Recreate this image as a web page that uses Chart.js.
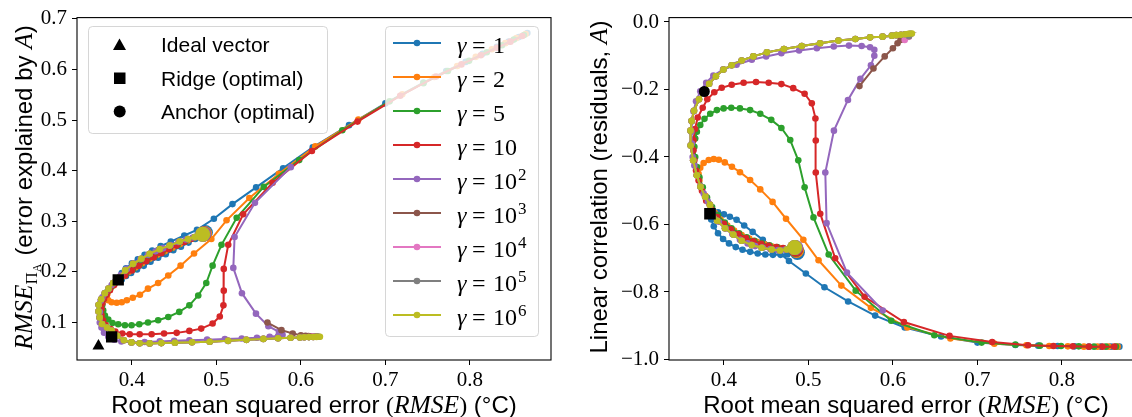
<!DOCTYPE html>
<html><head><meta charset="utf-8">
<script src="https://cdn.jsdelivr.net/npm/chart.js@4"></script>
<style>
html,body{margin:0;padding:0;background:#fff;overflow:hidden;width:1132px;height:417px;position:relative;}
#c1{position:absolute;left:0;top:0;width:566px;height:417px;}
#c2{position:absolute;left:566px;top:0;width:600px;height:417px;}
</style></head><body>
<canvas id="c1" width="566" height="417"></canvas>
<canvas id="c2" width="600" height="417"></canvas>
<script>
// ---------------- DATA ----------------
const gammaNames = ['γ = 1','γ = 2','γ = 5','γ = 10','γ = 10^2','γ = 10^3','γ = 10^4','γ = 10^5','γ = 10^6'];
const gammaBase = ['1','2','5','10','10','10','10','10','10'];
const gammaExp  = ['','','','','2','3','4','5','6'];
const xTicks = [0.4,0.5,0.6,0.7,0.8];
const yTicksLeft = [0.1,0.2,0.3,0.4,0.5,0.6,0.7];
const yTicksRight = [-1.0,-0.8,-0.6,-0.4,-0.2,0.0];

// gamma = 1
const rmse_g1 = [0.868,0.858,0.846,0.832,0.815,0.795,0.772,0.745,0.700,0.657,0.614,0.579,0.547,0.519,0.497,0.477,0.462,0.446,0.434,0.424,0.415,0.407,0.400,0.393,0.388,0.385,0.385,0.388,0.393,0.399,0.406,0.414,0.422,0.431,0.440,0.449,0.458,0.467,0.475,0.482,0.487];
const expl_g1 = [0.672,0.664,0.655,0.645,0.631,0.615,0.597,0.574,0.533,0.490,0.446,0.405,0.367,0.334,0.305,0.283,0.272,0.260,0.251,0.242,0.234,0.225,0.217,0.207,0.198,0.189,0.182,0.185,0.192,0.198,0.205,0.212,0.220,0.228,0.235,0.243,0.250,0.258,0.265,0.271,0.278];
const corr_g1 = [-0.962,-0.962,-0.962,-0.962,-0.961,-0.960,-0.959,-0.957,-0.950,-0.932,-0.905,-0.870,-0.828,-0.786,-0.745,-0.708,-0.676,-0.645,-0.622,-0.603,-0.586,-0.577,-0.570,-0.564,-0.565,-0.572,-0.585,-0.605,-0.626,-0.643,-0.656,-0.667,-0.675,-0.681,-0.686,-0.689,-0.690,-0.690,-0.689,-0.686,-0.683];
// gamma = 2
const rmse_g2 = [0.866,0.855,0.842,0.826,0.807,0.785,0.758,0.720,0.668,0.617,0.574,0.539,0.512,0.494,0.4735,0.4576,0.443,0.431,0.419,0.4095,0.401,0.394,0.388,0.382,0.376,0.372,0.370,0.371,0.374,0.378,0.383,0.389,0.396,0.404,0.412,0.421,0.430,0.439,0.448,0.457,0.466,0.474,0.481,0.486];
const expl_g2 = [0.670,0.662,0.652,0.640,0.625,0.607,0.585,0.551,0.501,0.448,0.394,0.346,0.302,0.265,0.2365,0.2124,0.193,0.178,0.167,0.155,0.149,0.144,0.140,0.139,0.140,0.144,0.150,0.157,0.165,0.173,0.182,0.191,0.200,0.209,0.217,0.226,0.234,0.241,0.248,0.255,0.262,0.268,0.272,0.276];
const corr_g2 = [-0.962,-0.962,-0.962,-0.962,-0.961,-0.960,-0.958,-0.953,-0.938,-0.905,-0.847,-0.781,-0.706,-0.645,-0.583,-0.533,-0.496,-0.468,-0.445,-0.429,-0.416,-0.408,-0.406,-0.409,-0.418,-0.432,-0.450,-0.470,-0.490,-0.515,-0.540,-0.565,-0.585,-0.603,-0.618,-0.631,-0.642,-0.651,-0.659,-0.665,-0.670,-0.674,-0.676,-0.677];
// gamma = 5
const rmse_g5 = [0.864,0.852,0.838,0.820,0.799,0.774,0.745,0.705,0.649,0.598,0.556,0.524,0.506,0.4955,0.488,0.4785,0.468,0.456,0.443,0.431,0.419,0.4087,0.3996,0.3917,0.3838,0.377,0.372,0.368,0.366,0.365,0.366,0.368,0.371,0.375,0.380,0.386,0.393,0.401,0.409,0.418,0.427,0.436,0.445,0.454,0.463,0.471,0.479,0.485];
const expl_g5 = [0.668,0.659,0.648,0.634,0.617,0.597,0.573,0.537,0.480,0.421,0.368,0.307,0.2535,0.2124,0.178,0.1535,0.134,0.121,0.111,0.1045,0.100,0.0967,0.0947,0.0947,0.0967,0.099,0.106,0.114,0.124,0.135,0.145,0.153,0.161,0.169,0.178,0.187,0.196,0.205,0.214,0.223,0.231,0.239,0.246,0.253,0.260,0.266,0.271,0.275];
const corr_g5 = [-0.962,-0.962,-0.962,-0.961,-0.960,-0.959,-0.956,-0.950,-0.928,-0.885,-0.796,-0.689,-0.579,-0.490,-0.410,-0.350,-0.314,-0.290,-0.272,-0.261,-0.256,-0.254,-0.256,-0.261,-0.272,-0.287,-0.305,-0.325,-0.345,-0.370,-0.400,-0.430,-0.460,-0.490,-0.520,-0.548,-0.573,-0.594,-0.611,-0.626,-0.638,-0.648,-0.656,-0.662,-0.667,-0.671,-0.673,-0.674];
// gamma = 10
const rmse_g10 = [0.862,0.848,0.832,0.813,0.790,0.760,0.7175,0.667,0.613,0.5665,0.5317,0.514,0.5087,0.5087,0.5083,0.504,0.4955,0.482,0.468,0.453,0.438,0.4233,0.4092,0.3974,0.3886,0.3803,0.3749,0.369,0.3658,0.364,0.364,0.365,0.367,0.370,0.374,0.379,0.385,0.392,0.400,0.408,0.417,0.426,0.435,0.444,0.453,0.462,0.470,0.478,0.485];
const expl_g10 = [0.666,0.655,0.643,0.628,0.610,0.586,0.548,0.497,0.439,0.376,0.314,0.2535,0.206,0.163,0.134,0.112,0.098,0.088,0.0835,0.0796,0.0784,0.077,0.077,0.077,0.0785,0.082,0.087,0.095,0.1045,0.115,0.127,0.138,0.147,0.155,0.164,0.174,0.184,0.193,0.203,0.212,0.221,0.229,0.237,0.245,0.252,0.259,0.265,0.270,0.275];
const corr_g10 = [-0.962,-0.962,-0.962,-0.961,-0.960,-0.958,-0.948,-0.930,-0.889,-0.814,-0.700,-0.568,-0.446,-0.351,-0.286,-0.241,-0.2126,-0.196,-0.184,-0.180,-0.178,-0.180,-0.186,-0.195,-0.208,-0.229,-0.254,-0.283,-0.317,-0.350,-0.380,-0.410,-0.440,-0.470,-0.500,-0.530,-0.555,-0.578,-0.598,-0.614,-0.628,-0.640,-0.650,-0.657,-0.663,-0.667,-0.670,-0.672,-0.673];
// gamma = 10^2
const rmse_g1e2 = [0.588,0.5456,0.5215,0.520,0.5302,0.5468,0.5615,0.574,0.578,0.578,0.573,0.563,0.548,0.530,0.510,0.489,0.468,0.450,0.433,0.415,0.399,0.3875,0.379,0.372,0.367,0.364,0.362,0.3615,0.362,0.363,0.365,0.368,0.372,0.376,0.381,0.387,0.394,0.402,0.410,0.419,0.428,0.437,0.446,0.455,0.464,0.472,0.479,0.485];
const expl_g1e2 = [0.407,0.3365,0.269,0.208,0.158,0.1176,0.0927,0.0817,0.077,0.075,0.0735,0.0718,0.0700,0.0686,0.0673,0.0662,0.0650,0.0640,0.0628,0.0615,0.0612,0.0625,0.066,0.072,0.080,0.090,0.100,0.110,0.121,0.143,0.150,0.158,0.166,0.174,0.183,0.194,0.206,0.217,0.225,0.234,0.241,0.247,0.253,0.259,0.264,0.268,0.272,0.275];
const corr_g1e2 = [-0.855,-0.7425,-0.596,-0.446,-0.322,-0.231,-0.1686,-0.1285,-0.100,-0.0826,-0.0748,-0.071,-0.070,-0.0728,-0.0777,-0.0845,-0.0924,-0.102,-0.112,-0.1267,-0.141,-0.159,-0.18,-0.205,-0.235,-0.265,-0.295,-0.325,-0.360,-0.400,-0.425,-0.455,-0.486,-0.508,-0.532,-0.562,-0.592,-0.612,-0.628,-0.645,-0.656,-0.664,-0.669,-0.673,-0.676,-0.675,-0.671,-0.668];
// gamma = 10^3
const rmse_g1e3 = [0.5604,0.5770,0.5903,0.6000,0.6055,0.6090,0.6125,0.6155,0.6180,0.6200,0.6146,0.6095,0.6040,0.5988,0.5878,0.5730,0.5556,0.5355,0.5138,0.4921,0.4711,0.4509,0.4348,0.4210,0.4092,0.3995,0.3905,0.3825,0.3760,0.3705,0.3646,0.3618,0.3605,0.3606,0.3636,0.3679,0.3723,0.3778,0.3835,0.3920,0.4013,0.4111,0.4210,0.4329,0.4447,0.4565,0.4664,0.4743,0.4840];
const expl_g1e3 = [0.1000,0.0850,0.0784,0.0750,0.0738,0.0732,0.0728,0.0724,0.0722,0.0720,0.0714,0.0712,0.0709,0.0706,0.0699,0.0690,0.0677,0.0658,0.0638,0.0622,0.0612,0.0602,0.0594,0.0588,0.0590,0.0608,0.0650,0.0740,0.0840,0.0900,0.0970,0.1100,0.1220,0.1350,0.1460,0.1580,0.1670,0.1780,0.1880,0.2030,0.2160,0.2260,0.2360,0.2450,0.2520,0.2600,0.2650,0.2690,0.2747];
const corr_g1e3 = [-0.190,-0.138,-0.102,-0.078,-0.063,-0.053,-0.045,-0.040,-0.037,-0.035,-0.0365,-0.038,-0.039,-0.0405,-0.0434,-0.0455,-0.0504,-0.0551,-0.063,-0.071,-0.080,-0.090,-0.102,-0.114,-0.128,-0.141,-0.161,-0.183,-0.205,-0.229,-0.263,-0.293,-0.322,-0.366,-0.410,-0.454,-0.488,-0.518,-0.542,-0.589,-0.611,-0.630,-0.648,-0.661,-0.669,-0.674,-0.677,-0.674,-0.669];
// gamma = 10^4
const rmse_g1e4 = [0.6140,0.6190,0.6146,0.6095,0.6040,0.5988,0.5878,0.5730,0.5556,0.5355,0.5138,0.4921,0.4711,0.4509,0.4348,0.4210,0.4092,0.3995,0.3905,0.3825,0.3760,0.3705,0.3646,0.3618,0.3605,0.3606,0.3636,0.3679,0.3723,0.3778,0.3835,0.3920,0.4013,0.4111,0.4210,0.4329,0.4447,0.4565,0.4664,0.4743,0.4838];
const expl_g1e4 = [0.0722,0.0719,0.0714,0.0712,0.0709,0.0706,0.0699,0.0690,0.0677,0.0658,0.0638,0.0622,0.0612,0.0602,0.0594,0.0588,0.0590,0.0608,0.0650,0.0740,0.0840,0.0900,0.0970,0.1100,0.1220,0.1350,0.1460,0.1580,0.1670,0.1780,0.1880,0.2030,0.2160,0.2260,0.2360,0.2450,0.2520,0.2600,0.2650,0.2690,0.2746];
const corr_g1e4 = [-0.053,-0.044,-0.0365,-0.038,-0.039,-0.0405,-0.0434,-0.0455,-0.0504,-0.0551,-0.063,-0.071,-0.080,-0.090,-0.102,-0.114,-0.128,-0.141,-0.161,-0.183,-0.205,-0.229,-0.263,-0.293,-0.322,-0.366,-0.410,-0.454,-0.488,-0.518,-0.542,-0.589,-0.611,-0.630,-0.648,-0.661,-0.669,-0.674,-0.677,-0.674,-0.668];
// gamma = 10^5
const rmse_g1e5 = [0.6190,0.6215,0.6146,0.6095,0.6040,0.5988,0.5878,0.5730,0.5556,0.5355,0.5138,0.4921,0.4711,0.4509,0.4348,0.4210,0.4092,0.3995,0.3905,0.3825,0.3760,0.3705,0.3646,0.3618,0.3605,0.3606,0.3636,0.3679,0.3723,0.3778,0.3835,0.3920,0.4013,0.4111,0.4210,0.4329,0.4447,0.4565,0.4664,0.4743,0.4837];
const expl_g1e5 = [0.0721,0.0718,0.0714,0.0712,0.0709,0.0706,0.0699,0.0690,0.0677,0.0658,0.0638,0.0622,0.0612,0.0602,0.0594,0.0588,0.0590,0.0608,0.0650,0.0740,0.0840,0.0900,0.0970,0.1100,0.1220,0.1350,0.1460,0.1580,0.1670,0.1780,0.1880,0.2030,0.2160,0.2260,0.2360,0.2450,0.2520,0.2600,0.2650,0.2690,0.2745];
const corr_g1e5 = [-0.042,-0.035,-0.0365,-0.038,-0.039,-0.0405,-0.0434,-0.0455,-0.0504,-0.0551,-0.063,-0.071,-0.080,-0.090,-0.102,-0.114,-0.128,-0.141,-0.161,-0.183,-0.205,-0.229,-0.263,-0.293,-0.322,-0.366,-0.410,-0.454,-0.488,-0.518,-0.542,-0.589,-0.611,-0.630,-0.648,-0.661,-0.669,-0.674,-0.677,-0.674,-0.668];
// gamma = 10^6
const rmse_g1e6 = [0.6225,0.6185,0.6146,0.6095,0.6040,0.5988,0.5878,0.5730,0.5556,0.5355,0.5138,0.4921,0.4711,0.4509,0.4348,0.4210,0.4092,0.3995,0.3905,0.3825,0.3760,0.3705,0.3646,0.3618,0.3605,0.3606,0.3636,0.3679,0.3723,0.3778,0.3835,0.3920,0.4013,0.4111,0.4210,0.4329,0.4447,0.4565,0.4664,0.4743,0.4837];
const expl_g1e6 = [0.0718,0.0716,0.0714,0.0712,0.0709,0.0706,0.0699,0.0690,0.0677,0.0658,0.0638,0.0622,0.0612,0.0602,0.0594,0.0588,0.0590,0.0608,0.0650,0.0740,0.0840,0.0900,0.0970,0.1100,0.1220,0.1350,0.1460,0.1580,0.1670,0.1780,0.1880,0.2030,0.2160,0.2260,0.2360,0.2450,0.2520,0.2600,0.2650,0.2690,0.2745];
const corr_g1e6 = [-0.034,-0.035,-0.0365,-0.038,-0.039,-0.0405,-0.0434,-0.0455,-0.0504,-0.0551,-0.063,-0.071,-0.080,-0.090,-0.102,-0.114,-0.128,-0.141,-0.161,-0.183,-0.205,-0.229,-0.263,-0.293,-0.322,-0.366,-0.410,-0.454,-0.488,-0.518,-0.542,-0.589,-0.611,-0.630,-0.648,-0.661,-0.669,-0.674,-0.677,-0.674,-0.668];

// special markers
const ideal_left = {x:0.3604, y:0.0537};
const ridge_left = {x:0.3838, y:0.1843};
const anchor_left = {x:0.3760, y:0.0718};
const ridge_right = {x:0.3835, y:-0.568};
const anchor_right = {x:0.3768, y:-0.206};

const colors = ['#1f77b4','#ff7f0e','#2ca02c','#d62728','#9467bd','#8c564b','#e377c2','#7f7f7f','#bcbd22'];
const rmseAll = [rmse_g1,rmse_g2,rmse_g5,rmse_g10,rmse_g1e2,rmse_g1e3,rmse_g1e4,rmse_g1e5,rmse_g1e6];
const explAll = [expl_g1,expl_g2,expl_g5,expl_g10,expl_g1e2,expl_g1e3,expl_g1e4,expl_g1e5,expl_g1e6];
const corrAll = [corr_g1,corr_g2,corr_g5,corr_g10,corr_g1e2,corr_g1e3,corr_g1e4,corr_g1e5,corr_g1e6];

// ---------------- HELPERS ----------------
const SANS = '24px "Liberation Sans"';
const SERIF = '24px "Liberation Serif"';
const MATH = 'italic 25.5px "Liberation Serif"';
const fmt = v => (Math.abs(v) < 1e-9 ? '0.0' : v.toFixed(1)).replace('-', '\u2212');

function drawRich(ctx, parts, cx, cy, rot) {
  ctx.save();
  ctx.translate(cx, cy);
  if (rot) ctx.rotate(-Math.PI / 2);
  let total = 0;
  parts.forEach(p => { ctx.font = p.f; p.w = ctx.measureText(p.t).width + (p.gap || 0); total += p.w; });
  let x = -total / 2;
  ctx.fillStyle = '#000';
  ctx.textBaseline = 'alphabetic';
  ctx.textAlign = 'left';
  parts.forEach(p => { ctx.font = p.f; ctx.fillText(p.t, x, p.dy || 0); x += p.w; });
  ctx.restore();
}
function roundRect(ctx, x, y, w, h, r) {
  ctx.beginPath();
  ctx.moveTo(x + r, y);
  ctx.arcTo(x + w, y, x + w, y + h, r);
  ctx.arcTo(x + w, y + h, x, y + h, r);
  ctx.arcTo(x, y + h, x, y, r);
  ctx.arcTo(x, y, x + w, y, r);
  ctx.closePath();
}
function drawLegends(ctx) {
  ctx.save();
  // marker legend
  roundRect(ctx, 88.5, 26.5, 239, 107, 4);
  ctx.fillStyle = 'rgba(255,255,255,0.8)'; ctx.fill();
  ctx.strokeStyle = 'rgba(204,204,204,0.8)'; ctx.lineWidth = 1; ctx.stroke();
  ctx.fillStyle = '#000';
  ctx.beginPath(); ctx.moveTo(119.5, 38.5); ctx.lineTo(126, 50); ctx.lineTo(113, 50); ctx.closePath(); ctx.fill();
  ctx.fillRect(114, 72.5, 11.5, 11.5);
  ctx.beginPath(); ctx.arc(119.7, 111.5, 6, 0, Math.PI * 2); ctx.fill();
  ctx.font = '21px "Liberation Sans"'; ctx.textBaseline = 'alphabetic';
  ctx.fillText('Ideal vector', 161, 52);
  ctx.fillText('Ridge (optimal)', 161, 85.5);
  ctx.fillText('Anchor (optimal)', 161, 119);
  // gamma legend
  roundRect(ctx, 385.5, 26.5, 153, 310, 4);
  ctx.fillStyle = 'rgba(255,255,255,0.8)'; ctx.fill();
  ctx.strokeStyle = 'rgba(204,204,204,0.8)'; ctx.stroke();
  for (let i = 0; i < colors.length; i++) {
    const y = 43 + i * 34;
    ctx.strokeStyle = colors[i]; ctx.lineWidth = 2;
    ctx.beginPath(); ctx.moveTo(393, y); ctx.lineTo(441, y); ctx.stroke();
    ctx.fillStyle = colors[i];
    ctx.beginPath(); ctx.arc(417, y, 3.3, 0, Math.PI * 2); ctx.fill();
    ctx.fillStyle = '#000';
    ctx.font = 'italic 24px "Liberation Serif"';
    ctx.fillText('γ', 457, y + 9.5);
    ctx.font = '24px "Liberation Serif"';
    ctx.fillText('=', 472, y + 9.5);
    ctx.fillText(gammaBase[i], 493, y + 9.5);
    if (gammaExp[i]) {
      const w = ctx.measureText(gammaBase[i]).width;
      ctx.font = '17px "Liberation Serif"';
      ctx.fillText(gammaExp[i], 493 + w + 1, y + 0.5);
    }
  }
  ctx.restore();
}

const decor = {
  id: 'decor',
  afterDatasetsDraw(chart, args, o) {
    const { ctx, chartArea: a } = chart;
    ctx.save();
    ctx.strokeStyle = '#000'; ctx.lineWidth = 1.1;
    ctx.strokeRect(a.left, a.top, a.right - a.left, a.bottom - a.top);
    ctx.restore();
  },
  afterDraw(chart, args, o) {
    const ctx = chart.ctx;
    if (o.xTitle) drawRich(ctx, o.xTitle, o.xTitleX, o.xTitleY, false);
    if (o.yTitle) drawRich(ctx, o.yTitle, o.yTitleX, o.yTitleY, true);
    if (o.legends) drawLegends(ctx);
  }
};

function makeScales(ymin, ymax, yt, yAxisWidth) {
  const common = {
    type: 'linear',
    grid: { display: true, drawOnChartArea: false, drawTicks: true, tickLength: 5, color: '#000', lineWidth: 1 },
    border: { display: false },
    ticks: { autoSkip: false, maxRotation: 0, color: '#000', font: { family: 'Liberation Serif', size: 21 }, callback: v => fmt(v) }
  };
  return {
    x: Object.assign({}, common, {
      min: 0.335, max: 0.896,
      ticks: Object.assign({}, common.ticks, { padding: 3 }),
      afterBuildTicks: s => { s.ticks = xTicks.map(v => ({ value: v })); },
      afterFit: s => { s.height = 57; }
    }),
    y: Object.assign({}, common, {
      min: ymin, max: ymax,
      ticks: Object.assign({}, common.ticks, { padding: 5 }),
      afterBuildTicks: s => { s.ticks = yt.map(v => ({ value: v })); },
      afterFit: s => { s.width = yAxisWidth; }
    })
  };
}

function seriesDatasets(yAll) {
  return colors.map((c, k) => ({
    label: gammaNames[k],
    data: rmseAll[k].map((x, i) => ({ x: x, y: yAll[k][i] })),
    borderColor: c, backgroundColor: c, pointBackgroundColor: c,
    pointBorderWidth: 0, borderWidth: 2, showLine: true,
    pointRadius: rmseAll[k].map((_, i) => i === rmseAll[k].length - 1 ? 7.5 : 3.3),
    order: 20 - k
  }));
}
function markerDs(pt, style, r) {
  return { data: [pt], pointStyle: style, pointRadius: r, backgroundColor: '#000', borderColor: '#000',
           pointBorderWidth: 0, showLine: false, order: 0 };
}

const baseOpts = { responsive: false, animation: false, events: [], devicePixelRatio: 1 };

new Chart(document.getElementById('c1'), {
  type: 'scatter',
  data: { datasets: seriesDatasets(explAll).concat([
    markerDs(ideal_left, 'triangle', 6.9), markerDs(ridge_left, 'rect', 8), markerDs(anchor_left, 'rect', 8)]) },
  options: Object.assign({}, baseOpts, {
    layout: { padding: { left: 0, top: 15, right: 15, bottom: 0 } },
    scales: makeScales(0.026, 0.7025, yTicksLeft, 77),
    plugins: {
      legend: { display: false }, tooltip: { enabled: false },
      decor: {
        legends: true,
        xTitle: [{ t: 'Root mean squared error ', f: SANS }, { t: '(', f: SERIF }, { t: 'RMSE', f: MATH }, { t: ')', f: SERIF }, { t: ' (°C)', f: SANS }],
        xTitleX: 314, xTitleY: 413,
        yTitle: [{ t: 'RMSE', f: MATH }, { t: 'Π', f: '17px "Liberation Serif"', dy: 5 }, { t: 'A', f: '12px "Liberation Serif"', dy: 9, gap: 8 },
                 { t: '(error explained by ', f: SANS }, { t: 'A', f: MATH }, { t: ')', f: SANS }],
        yTitleX: 32, yTitleY: 187.5
      }
    }
  }),
  plugins: [decor]
});

new Chart(document.getElementById('c2'), {
  type: 'scatter',
  data: { datasets: seriesDatasets(corrAll).concat([
    markerDs(ridge_right, 'rect', 8.2), markerDs(anchor_right, 'circle', 5.5)]) },
  options: Object.assign({}, baseOpts, {
    layout: { padding: { left: 0, top: 15, right: 23, bottom: 0 } },
    scales: makeScales(-1.0015, 0.013, yTicksRight, 103),
    plugins: {
      legend: { display: false }, tooltip: { enabled: false },
      decor: {
        legends: false,
        xTitle: [{ t: 'Root mean squared error ', f: SANS }, { t: '(', f: SERIF }, { t: 'RMSE', f: MATH }, { t: ')', f: SERIF }, { t: ' (°C)', f: SANS }],
        xTitleX: 340, xTitleY: 413,
        yTitle: [{ t: 'Linear correlation (residuals, ', f: SANS }, { t: 'A', f: MATH }, { t: ')', f: SANS }],
        yTitleX: 41, yTitleY: 187
      }
    }
  }),
  plugins: [decor]
});
</script>
</body></html>
